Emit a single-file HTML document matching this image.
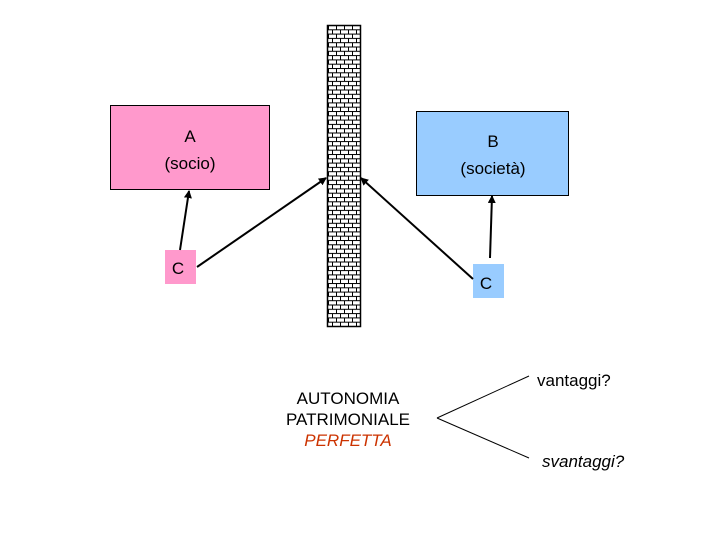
<!DOCTYPE html>
<html><head><meta charset="utf-8"><style>
html,body{margin:0;padding:0;background:#fff;}
svg{display:block;}
text{font-family:"Liberation Sans",sans-serif;}
</style></head><body>
<svg width="720" height="540" viewBox="0 0 720 540" xmlns="http://www.w3.org/2000/svg">
<defs>
<pattern id="brick" x="327" y="25" width="8" height="8.6" patternUnits="userSpaceOnUse">
<rect width="8" height="8.6" fill="#fff"/>
<line x1="0" y1="0.5" x2="8" y2="0.5" stroke="#000" stroke-width="1"/>
<line x1="0" y1="4.8" x2="8" y2="4.8" stroke="#000" stroke-width="1"/>
<line x1="1.5" y1="0.5" x2="1.5" y2="4.8" stroke="#000" stroke-width="1"/>
<line x1="5.5" y1="4.8" x2="5.5" y2="8.6" stroke="#000" stroke-width="1"/>
</pattern>
<marker id="ah" markerWidth="8" markerHeight="8" refX="7" refY="4" orient="auto" markerUnits="userSpaceOnUse" viewBox="0 0 8 8">
<path d="M0,0 L8,4 L0,8 z" fill="#000"/>
</marker>
</defs>
<rect x="327.5" y="25.5" width="33" height="301" fill="url(#brick)" stroke="#000" stroke-width="1.5"/>

<rect x="110.5" y="105.5" width="159" height="84" fill="#ff99cc" stroke="#000" stroke-width="1"/>
<text x="190" y="142" font-size="17" text-anchor="middle">A</text>
<text x="190" y="169" font-size="17" text-anchor="middle">(socio)</text>

<rect x="416.5" y="111.5" width="152" height="84" fill="#99ccff" stroke="#000" stroke-width="1"/>
<text x="493" y="147" font-size="17" text-anchor="middle">B</text>
<text x="493" y="174" font-size="17" text-anchor="middle">(società)</text>

<rect x="165" y="250" width="31" height="34" fill="#ff99cc"/>
<text x="178" y="274" font-size="17" text-anchor="middle">C</text>
<rect x="473" y="264" width="31" height="34" fill="#99ccff"/>
<text x="486" y="289" font-size="17" text-anchor="middle">C</text>

<g stroke="#000" stroke-width="2" fill="none" marker-end="url(#ah)">
<line x1="180" y1="250" x2="189" y2="191"/>
<line x1="197" y1="267" x2="326" y2="178"/>
<line x1="473" y1="279" x2="361" y2="178"/>
<line x1="490" y1="258" x2="492" y2="196"/>
</g>

<text x="348" y="404" font-size="17" text-anchor="middle">AUTONOMIA</text>
<text x="348" y="425" font-size="17" text-anchor="middle">PATRIMONIALE</text>
<text x="348" y="446" font-size="17" text-anchor="middle" font-style="italic" fill="#cc3300">PERFETTA</text>

<g stroke="#000" stroke-width="1">
<line x1="437" y1="418" x2="529" y2="376"/>
<line x1="437" y1="418" x2="529" y2="458"/>
</g>
<text x="537" y="386" font-size="17">vantaggi?</text>
<text x="542" y="467" font-size="17" font-style="italic">svantaggi?</text>
</svg>
</body></html>
